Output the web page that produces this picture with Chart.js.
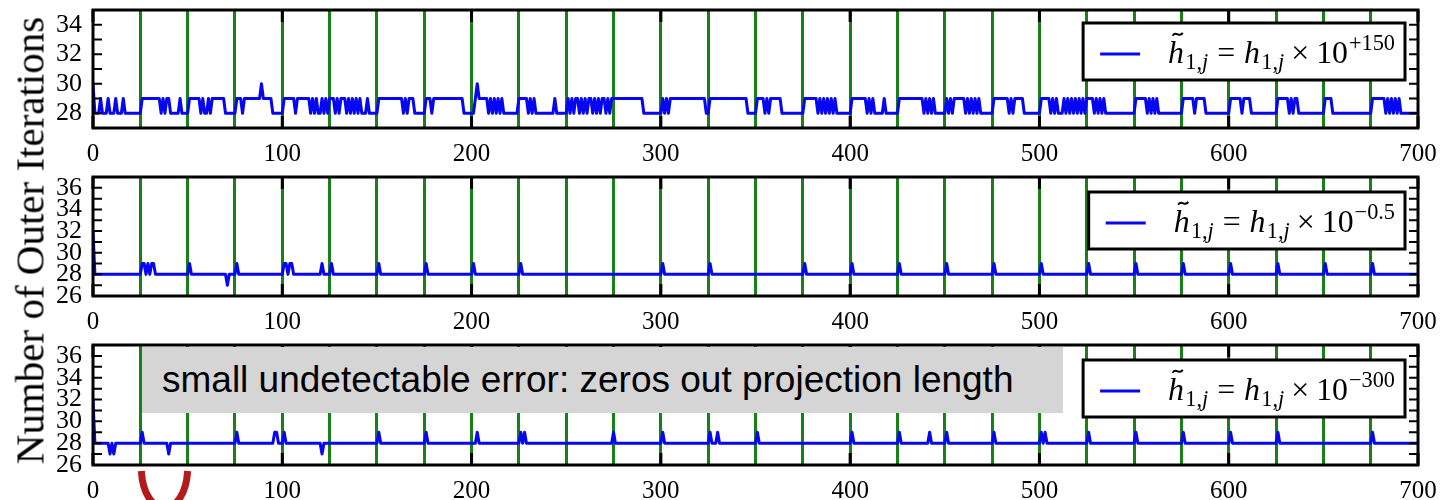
<!DOCTYPE html>
<html>
<head>
<meta charset="utf-8">
<script src="https://cdn.jsdelivr.net/npm/chart.js@4.4.1/dist/chart.umd.min.js"></script>
<style>
  body { margin: 0; background: #fff; width: 1441px; height: 500px; overflow: hidden; position: relative; }
  canvas { position: absolute; left: 0; }
  #ytitle {
    position: absolute; left: -224px; top: 220px; width: 500px; height: 41px;
    line-height: 41px; text-align: center; white-space: nowrap;
    font: 41px "Liberation Serif", serif; color: #000;
    transform: rotate(-90deg);
  }
  #note {
    position: absolute; left: 142px; top: 347px; width: 921px; height: 66px;
    box-sizing: border-box; padding-left: 20px; background: #d5d5d5;
    font: 37px "Liberation Sans", Arial, sans-serif; line-height: 66px;
    white-space: nowrap; color: #000;
  }
</style>
</head>
<body>
<canvas id="panel1" width="1441" height="165" style="top:0px"></canvas>
<canvas id="panel2" width="1441" height="170" style="top:165px"></canvas>
<canvas id="panel3" width="1441" height="165" style="top:335px"></canvas>
<div id="ytitle">Number of Outer Iterations</div>
<div id="note">small undetectable error: zeros out projection length</div>
<script>
// x range shared by all three panels
const xLimits = [0, 700];

// y ranges for each panel
const yLimitsTop = [27, 35];
const yLimitsMid = [26, 37];
const yLimitsBottom = [26, 37];

// exponent shown in each legend
const exponents = ['+150', '\u22120.5', '\u2212300'];

// outer iterations, breakpoints [step, iterations]
const itersPlus150 = [
  [0,30],[1,28],[3,28],[4,29],[5,28],[7,28],[8,29],[9,28],[11,28],[12,29],[13,28],[15,28],[16,29],[17,28],[25,28],
  [26,29],[35,29],[36,28],[37,29],[38,28],[39,29],[40,29],[41,28],[45,28],[46,29],[47,28],[50,28],
  [51,29],[56,29],[57,28],[58,29],[59,28],[60,28],[61,29],[62,28],[63,29],[69,29],[70,28],[75,28],
  [76,29],[78,29],[79,28],[80,29],[88,29],[89,30],[90,29],[94,29],[95,28],[100,28],
  [101,29],[106,29],[107,28],[108,29],[114,29],[115,28],[116,29],[117,28],[118,29],[119,28],[120,28],[121,29],[122,28],[123,29],[124,28],[125,29],
  [127,29],[128,28],[129,29],[130,28],[131,29],[133,29],[134,28],[135,29],[136,28],[137,29],[138,28],[139,29],[140,28],[141,29],[142,28],[144,28],[145,29],[146,28],[150,28],
  [151,29],[163,29],[164,28],[165,29],[166,28],[167,29],[169,29],[170,28],[175,28],
  [176,29],[178,29],[179,28],[180,29],[195,29],[196,28],[201,28],
  [202,29],[203,30],[204,29],[208,29],[209,28],[210,29],[211,28],[212,29],[213,28],[214,29],[215,28],[216,29],[217,28],[224,28],
  [225,29],[229,29],[230,28],[231,29],[232,28],[233,29],[234,28],[243,28],[244,29],[245,28],[250,28],
  [251,29],[252,28],[253,29],[254,28],[255,29],[256,29],[257,28],[258,29],[259,28],[260,29],[261,28],[262,29],[263,29],[264,28],[265,29],[266,28],[267,29],[268,28],[269,29],[270,29],[271,28],[272,29],[273,28],[274,29],
  [276,29],[290,29],[291,28],[300,28],
  [301,29],[302,28],[303,29],[304,28],[305,29],[323,29],[324,28],[325,28],[326,29],[345,29],[346,28],[350,28],
  [351,29],[354,29],[355,28],[356,29],[357,28],[358,29],[363,29],[364,28],[375,28],
  [376,29],[382,29],[383,28],[384,29],[385,28],[386,29],[387,28],[388,29],[389,28],[390,29],[391,28],[392,29],[393,28],[400,28],
  [401,29],[408,29],[409,28],[410,29],[411,28],[412,29],[413,28],[417,28],[418,29],[419,28],[425,28],
  [426,29],[438,29],[439,28],[440,29],[441,28],[442,29],[443,28],[444,29],[445,28],[450,28],
  [451,29],[452,28],[453,29],[454,28],[455,29],[460,29],[461,28],[462,29],[463,28],[464,29],[465,28],[466,29],[467,28],[468,29],[469,28],[475,28],
  [476,29],[483,29],[484,28],[485,29],[486,28],[487,29],[491,29],[492,28],[500,28],
  [501,29],[505,29],[506,28],[507,29],[508,28],[509,29],[510,28],[512,28],[513,29],[514,28],[515,29],[516,28],[517,29],[518,28],[519,29],[520,28],[521,29],[522,28],[523,29],[524,28],[525,29],
  [528,29],[529,28],[530,29],[531,28],[532,29],[533,28],[534,29],[535,28],[550,28],
  [551,29],[556,29],[557,28],[558,29],[559,28],[560,29],[561,28],[562,29],[563,28],[575,28],
  [576,29],[581,29],[582,28],[583,29],[587,29],[588,28],[600,28],
  [601,29],[606,29],[607,28],[608,29],[611,29],[612,28],[625,28],
  [626,29],[631,29],[632,28],[633,29],[634,28],[635,29],[636,29],[637,28],[650,28],
  [651,29],[654,29],[655,28],[675,28],
  [676,29],[682,29],[683,28],[684,29],[685,28],[686,29],[687,28],[688,29],[689,28],[690,29],[691,28],[700,28]
];

const itersMinus05 = [
  [0,32],[1,28],[25,28],[26,29],[27,29],[28,28],[29,29],[30,28],[31,29],[32,29],[33,28],
  [50,28],[51,29],[52,28],[70,28],[71,27],[72,28],[75,28],[76,29],[77,28],
  [100,28],[101,29],[102,29],[103,28],[104,29],[105,29],[106,28],[120,28],[121,29],[122,28],[125,28],[126,29],[127,28],
  [150,28],[151,29],[152,28],[175,28],[176,29],[177,28],[200,28],[201,29],[202,28],[225,28],[226,29],[227,28],
  [300,28],[301,29],[302,28],[325,28],[326,29],[327,28],[375,28],[376,29],[377,28],
  [400,28],[401,29],[402,28],[425,28],[426,29],[427,28],[450,28],[451,29],[452,28],[475,28],[476,29],[477,28],
  [500,28],[501,29],[502,28],[525,28],[526,29],[527,28],[550,28],[551,29],[552,28],[575,28],[576,29],[577,28],
  [600,28],[601,29],[602,28],[625,28],[626,29],[627,28],[650,28],[651,29],[652,28],[675,28],[676,29],[677,28],[700,28]
];

const itersMinus300 = [
  [0,32],[1,28],[8,28],[9,27],[10,28],[11,27],[12,28],[25,28],[26,29],[27,28],[39,28],[40,27],[41,28],
  [75,28],[76,29],[77,28],[95,28],[96,29],[97,29],[98,28],[100,28],[101,29],[102,28],[120,28],[121,27],[122,28],
  [150,28],[151,29],[152,28],[175,28],[176,29],[177,28],[202,28],[203,29],[204,28],
  [225,28],[226,29],[227,28],[228,29],[229,28],[274,28],[275,29],[276,28],
  [300,28],[301,29],[302,28],[325,28],[326,29],[327,28],[329,28],[330,29],[331,28],[350,28],[351,29],[352,28],
  [400,28],[401,29],[402,28],[425,28],[426,29],[427,28],[441,28],[442,29],[443,28],[450,28],[451,29],[452,28],
  [475,28],[476,29],[477,28],[500,28],[501,29],[502,28],[503,29],[504,28],[525,28],[526,29],[527,28],
  [550,28],[551,29],[552,28],[575,28],[576,29],[577,28],[600,28],[601,29],[602,28],[625,28],[626,29],[627,28],
  [675,28],[676,29],[677,28],[700,28]
];

const SERIF = '"Liberation Serif", "Times New Roman", serif';
const GREEN = '#178017';
const BLUE = '#0606f0';

Chart.defaults.font.family = SERIF;
Chart.defaults.color = '#000';

// pieces of the legend formula: h~_{1,j} = h_{1,j} x 10^{exp}
function mathTokens(exp) {
  return [
    { t: 'h', it: true, k: 1, dy: 0, tilde: true },
    { t: '1,', k: 0.7, dy: 0.2, gap: 0.04 },
    { t: 'j', it: true, k: 0.7, dy: 0.2 },
    { t: '=', k: 1, dy: 0, gap: 0.28, after: 0.28 },
    { t: 'h', it: true, k: 1, dy: 0 },
    { t: '1,', k: 0.7, dy: 0.2, gap: 0.04 },
    { t: 'j', it: true, k: 0.7, dy: 0.2 },
    { t: '\u00d7', k: 1, dy: 0, gap: 0.22, after: 0.22 },
    { t: '10', k: 1, dy: 0 },
    { t: exp, k: 0.7, dy: -0.42, gap: 0.03 }
  ];
}

function walkMath(ctx, exp, size, x0, base, draw) {
  let x = x0;
  for (const tk of mathTokens(exp)) {
    x += (tk.gap || 0) * size;
    ctx.font = (tk.it ? 'italic ' : '') + (size * tk.k) + 'px ' + SERIF;
    const w = ctx.measureText(tk.t).width;
    if (draw) {
      ctx.fillText(tk.t, x, base + tk.dy * size);
      if (tk.tilde) {
        const cx = x + w * 0.6, cy = base - 0.9 * size, hw = 0.16 * size, a = 0.045 * size;
        ctx.beginPath();
        ctx.moveTo(cx - hw, cy + a);
        ctx.bezierCurveTo(cx - hw * 0.3, cy - 3 * a, cx + hw * 0.3, cy + 3 * a, cx + hw, cy - a);
        ctx.lineWidth = 0.06 * size;
        ctx.stroke();
      }
    }
    x += w + (tk.after || 0) * size;
  }
  return x - x0;
}

const mathLegend = {
  id: 'mathLegend',
  afterDraw(chart, args, opts) {
    const { ctx, chartArea: a } = chart;
    ctx.save();
    const size = 30 * 227 / walkMath(ctx, '+150', 30, 0, 0, false);
    const textW = walkMath(ctx, opts.exponent, size, 0, 0, false);
    const boxW = 95 + textW, boxH = 57;
    const right = a.right - 13, left = right - boxW, top = a.top + opts.offsetTop;
    ctx.fillStyle = '#fff';
    ctx.fillRect(left, top, boxW, boxH);
    ctx.strokeStyle = '#000';
    ctx.lineWidth = 3;
    ctx.strokeRect(left, top, boxW, boxH);
    ctx.strokeStyle = chart.data.datasets[0].borderColor;
    ctx.beginPath();
    ctx.moveTo(left + 17, top + 31);
    ctx.lineTo(left + 57, top + 31);
    ctx.stroke();
    ctx.fillStyle = '#000';
    ctx.strokeStyle = '#000';
    ctx.textBaseline = 'alphabetic';
    walkMath(ctx, opts.exponent, size, left + 85, top + 40, true);
    ctx.restore();
  }
};

// frame plus inward tick marks, like the original axes
const frameTicks = {
  id: 'frameTicks',
  afterDatasetsDraw(chart) {
    const { ctx, chartArea: a, scales: { x, y } } = chart;
    ctx.save();
    ctx.strokeStyle = '#000';
    ctx.lineWidth = 2;
    ctx.beginPath();
    y.ticks.forEach(t => {
      const py = y.getPixelForValue(t.value);
      ctx.moveTo(a.left, py); ctx.lineTo(a.left + 9, py);
      ctx.moveTo(a.right - 9, py); ctx.lineTo(a.right, py);
    });
    ctx.stroke();
    ctx.lineWidth = 3;
    ctx.beginPath();
    x.ticks.forEach(t => {
      if (t.value % 100 !== 0) return;
      const px = x.getPixelForValue(t.value);
      ctx.moveTo(px, a.top); ctx.lineTo(px, a.top + 12);
      ctx.moveTo(px, a.bottom - 12); ctx.lineTo(px, a.bottom);
    });
    ctx.stroke();
    ctx.strokeRect(a.left, a.top, a.width, a.height);
    ctx.restore();
  }
};

// red U bracket under the 25..50 interval of the last panel
const bracket = {
  id: 'bracket',
  afterDraw(chart, args, opts) {
    if (!opts.show) return;
    const { ctx, chartArea: a, scales: { x } } = chart;
    const xl = x.getPixelForValue(25) + 1, xr = x.getPixelForValue(50);
    const yt = a.bottom + 6;
    ctx.save();
    ctx.strokeStyle = '#b01c1c';
    ctx.lineWidth = 7;
    ctx.beginPath();
    ctx.moveTo(xl, yt);
    ctx.bezierCurveTo(xl + 3, yt + 49, xr - 3, yt + 49, xr, yt);
    ctx.stroke();
    ctx.restore();
  }
};

function noPadding(s) {
  s.paddingTop = 0;
  s.paddingBottom = 0;
  s.paddingLeft = 0;
  s.paddingRight = 0;
}

function createPanel(canvasId, points, yLimits, exponent, areaTop, areaBottom, legendTop, showBracket) {
  const canvas = document.getElementById(canvasId);
  const canvasHeight = canvas.height;
  return new Chart(canvas, {
    type: 'line',
    data: {
      datasets: [{
        label: 'h ' + exponent,
        data: points.map(([x, y]) => ({ x, y })),
        borderColor: BLUE,
        borderWidth: 3,
        borderJoinStyle: 'round',
        pointRadius: 0,
        tension: 0,
        fill: false
      }]
    },
    options: {
      responsive: false,
      animation: false,
      layout: { padding: { left: 0, right: 23, top: areaTop, bottom: 0 } },
      plugins: {
        legend: { display: false },
        tooltip: { enabled: false },
        mathLegend: { exponent: exponent, offsetTop: legendTop },
        bracket: { show: showBracket }
      },
      scales: {
        x: {
          type: 'linear',
          min: xLimits[0],
          max: xLimits[1],
          afterFit: s => { noPadding(s); s.height = canvasHeight - areaBottom; },
          border: { display: false },
          grid: {
            drawTicks: false,
            lineWidth: 3,
            color: c => (c.tick && (c.tick.value === xLimits[0] || c.tick.value === xLimits[1])) ? 'rgba(0,0,0,0)' : GREEN
          },
          ticks: {
            stepSize: 25,
            autoSkip: false,
            maxRotation: 0,
            padding: 11,
            color: '#000',
            font: { family: SERIF, size: 25 },
            callback: v => (v % 100 === 0 ? v : '')
          }
        },
        y: {
          type: 'linear',
          min: yLimits[0],
          max: yLimits[1],
          afterFit: s => { noPadding(s); s.width = 93; },
          border: { display: false },
          grid: { display: false, drawTicks: false },
          ticks: {
            stepSize: 1,
            includeBounds: false,
            autoSkip: false,
            padding: 11,
            color: '#000',
            font: { family: SERIF, size: 26 },
            callback: v => (v % 2 === 0 ? v : '')
          }
        }
      }
    },
    plugins: [frameTicks, mathLegend, bracket]
  });
}

createPanel('panel1', itersPlus150, yLimitsTop, exponents[0], 10, 128, 13, false);
createPanel('panel2', itersMinus05, yLimitsMid, exponents[1], 12, 131, 15, false);
createPanel('panel3', itersMinus300, yLimitsBottom, exponents[2], 10, 130, 15, true);
</script>
</body>
</html>
